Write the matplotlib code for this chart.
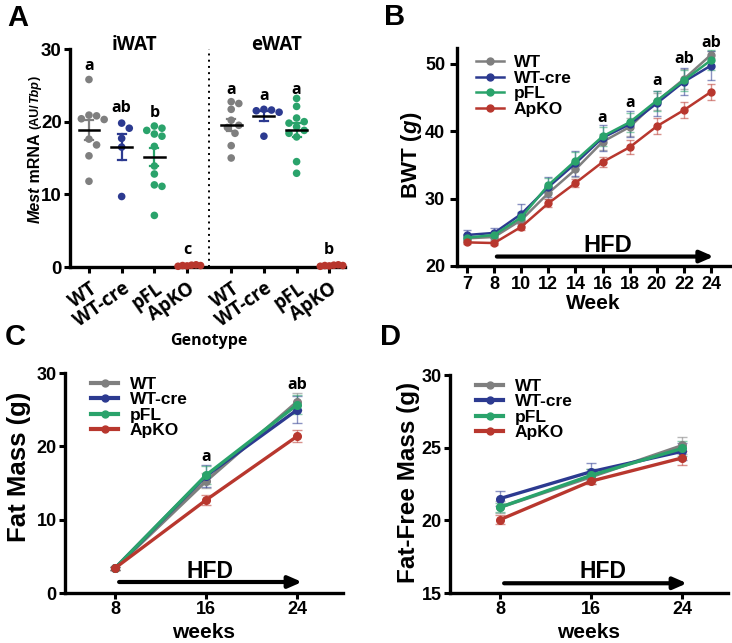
import numpy as np
import matplotlib
matplotlib.use('Agg')
import matplotlib.pyplot as plt
from matplotlib.lines import Line2D

plt.rcParams['font.family'] = ['Liberation Sans', 'DejaVu Sans']
plt.rcParams['font.weight'] = 'bold'

# ---------------- data ----------------
genotypes = ['WT', 'WT-cre', 'pFL', 'ApKO']
colors = ['#7f7f7f', '#2c3a90', '#2aa36b', '#b8372e']

# Panel A: Mest mRNA (AU/Tbp)
iwat_wt = [25.8, 20.9, 20.8, 20.4, 20.3, 17.6, 16.8, 15.3, 11.8]
iwat_wtcre = [19.8, 19.1, 17.7, 16.5, 9.7]
iwat_pfl = [19.4, 19.1, 18.8, 18.3, 18.0, 16.6, 13.9, 12.8, 11.3, 11.1, 7.1]
iwat_apko = [0.15, 0.25, 0.2, 0.3, 0.1, 0.2]
ewat_wt = [22.75, 22.5, 21.7, 20.2, 19.5, 19.2, 18.4, 16.7, 15.0]
ewat_wtcre = [21.7, 21.6, 21.5, 21.3, 18.0]
ewat_pfl = [23.2, 22.1, 20.5, 20.0, 19.8, 19.3, 18.8, 18.4, 17.9, 14.5, 12.9]
ewat_apko = [0.15, 0.25, 0.2, 0.3, 0.1, 0.2]
sig_iwat = ['a', 'ab', 'b', 'c']
sig_ewat = ['a', 'a', 'a', 'b']

# Panel B: body weight (g)
weeks_b = ['7', '8', '10', '12', '14', '16', '18', '20', '22', '24']
bwt_wt = [24.1, 24.3, 26.8, 30.8, 34.3, 38.4, 40.6, 44.4, 47.7, 51.3]
bwt_wtcre = [24.6, 24.9, 27.7, 31.7, 35.2, 39.0, 41.0, 44.1, 47.3, 49.7]
bwt_pfl = [24.2, 24.6, 27.2, 32.0, 35.6, 39.2, 41.3, 44.5, 47.5, 50.5]
bwt_apko = [23.5, 23.4, 25.8, 29.3, 32.3, 35.4, 37.6, 40.7, 43.1, 45.8]
bwt_wt_err = [0.5, 0.5, 0.8, 0.9, 1.1, 1.2, 1.3, 1.3, 1.5, 0.5]
bwt_wtcre_err = [0.8, 0.7, 1.5, 1.5, 1.8, 1.9, 1.9, 1.9, 2.0, 2.2]
bwt_pfl_err = [0.5, 0.5, 0.8, 1.0, 1.3, 1.4, 1.4, 1.5, 1.6, 1.5]
bwt_apko_err = [0.3, 0.3, 0.5, 0.6, 0.6, 0.8, 1.0, 1.2, 1.2, 1.2]
sig_b = ['', '', '', '', '', 'a', 'a', 'a', 'ab', 'ab']

# Panels C & D
weeks_cd = [8, 16, 24]
fat_wt = [3.4, 15.3, 26.1]
fat_wtcre = [3.4, 16.0, 25.0]
fat_pfl = [3.4, 16.1, 25.7]
fat_apko = [3.4, 12.7, 21.4]
fat_wt_err = [0.2, 1.0, 1.2]
fat_wtcre_err = [0.2, 1.5, 1.8]
fat_pfl_err = [0.2, 1.2, 1.3]
fat_apko_err = [0.2, 0.7, 0.8]
sig_c = ['', 'a', 'ab']

ffm_wt = [20.9, 23.0, 25.15]
ffm_wtcre = [21.5, 23.35, 24.75]
ffm_pfl = [20.9, 23.1, 24.95]
ffm_apko = [20.05, 22.7, 24.3]
ffm_wt_err = [0.4, 0.5, 0.6]
ffm_wtcre_err = [0.5, 0.6, 0.6]
ffm_pfl_err = [0.3, 0.4, 0.5]
ffm_apko_err = [0.3, 0.2, 0.5]

# ---------------- figure ----------------
W, H = 732, 643
fig = plt.figure(figsize=(W / 100, H / 100), dpi=100)
renderer = fig.canvas.get_renderer()


def px_axes(l, r, t, b):
    return fig.add_axes([l / W, (H - b) / H, (r - l) / W, (b - t) / H])


def style_axes(ax, ls=13, length=5, pad=3.5):
    for s in ['top', 'right']:
        ax.spines[s].set_visible(False)
    for s in ['left', 'bottom']:
        ax.spines[s].set_linewidth(2.4)
    ax.tick_params(width=2.2, length=length, labelsize=ls, direction='out', pad=pad)
    for lab in ax.get_xticklabels() + ax.get_yticklabels():
        lab.set_fontweight('bold')


def stacked_vlabel(xpix, ybottom_pix, pieces):
    cur = ybottom_pix
    for txt, sty, fs in pieces:
        t = fig.text(xpix / W, 1 - cur / H, txt, rotation=90, rotation_mode='anchor',
                     ha='left', va='center', fontsize=fs, fontweight='bold', fontstyle=sty)
        cur -= t.get_window_extent(renderer).height


SANS2 = ['Open Sans', 'DejaVu Sans']

# ---------- Panel A ----------
axA = px_axes(70, 345, 49, 267)
gap = 1.35
xpos = [0, 1, 2, 3, 3 + gap, 4 + gap, 5 + gap, 6 + gap]
groups = [iwat_wt, iwat_wtcre, iwat_pfl, iwat_apko,
          ewat_wt, ewat_wtcre, ewat_pfl, ewat_apko]
axA.set_xlim(-0.58, 7.83)
axA.set_ylim(0, 30)
xs_px = (345 - 70) / (7.83 + 0.58)
ys_px = (267 - 49) / 30.0


def swarm(ys, d=7.6):
    placed = []
    offs = []
    cand = [0]
    for k in range(1, 12):
        cand += [k * 0.5 * d, -k * 0.5 * d]
    for y in ys:
        for c in cand:
            ok = True
            for (px, py) in placed:
                if np.hypot(c - px, (y - py) * ys_px) < d:
                    ok = False
                    break
            if ok:
                placed.append((c, y))
                offs.append(c / xs_px)
                break
    return np.array(offs)


for i, (x0, vals) in enumerate(zip(xpos, groups)):
    col = colors[i % 4]
    vals = np.array(vals)
    offs = swarm(vals) if i % 4 != 3 else swarm(vals, d=4.5)
    axA.scatter(x0 + offs, vals, s=30, color=col, edgecolor='none', zorder=3, clip_on=False)
    m = vals.mean()
    se = vals.std(ddof=1) / np.sqrt(len(vals))
    if i % 4 != 3:
        axA.plot([x0, x0], [m - se, m + se], color=col, lw=1.6, zorder=4)
        axA.plot([x0 - 0.12, x0 + 0.12], [m + se] * 2, color=col, lw=1.6, zorder=4)
        axA.plot([x0 - 0.12, x0 + 0.12], [m - se] * 2, color=col, lw=1.6, zorder=4)
        axA.plot([x0 - 0.32, x0 + 0.32], [m, m], color='black', lw=1.8, zorder=5)

sig_y = [27.6, 21.9, 21.2, 2.3, 24.4, 23.6, 24.4, 2.3]
for x0, s, yy in zip(xpos, sig_iwat + sig_ewat, sig_y):
    axA.text(x0, yy, s, ha='center', va='center', fontsize=11.5,
             fontweight='bold', family=SANS2)

axA.axvline(3 + gap / 2, ymin=0, ymax=1, color='black', ls=(0, (1, 2.2)), lw=1.4)
axA.text(1.4, 30.6, 'iWAT', ha='center', va='center', fontsize=13.5, fontweight='bold', family=SANS2)
axA.text(5.75, 30.6, 'eWAT', ha='center', va='center', fontsize=13.5, fontweight='bold', family=SANS2)
axA.set_xticks(xpos)
axA.set_xticklabels(genotypes * 2)
axA.set_yticks([0, 10, 20, 30])
style_axes(axA, 13.5, length=4.5, pad=1.5)
for lab in axA.get_xticklabels():
    lab.set_rotation(35)
    lab.set_ha('right')
    lab.set_rotation_mode('anchor')
    lab.set_family(SANS2)
    lab.set_fontsize(13.5)
axA.tick_params(axis='x', pad=4)
fig.text(209 / W, 1 - 341 / H, 'Genotype', ha='center', va='center', fontsize=11.5,
         fontweight='bold', family=SANS2)

stacked_vlabel(35, 223, [('Mest', 'italic', 11.5), (' mRNA ', 'normal', 11.5), ('(AU/', 'normal', 9),
                         ('Tbp', 'italic', 9), (')', 'normal', 9)])

# ---------- Panel B ----------
axB = px_axes(457, 730, 48, 266)
xb = np.arange(len(weeks_b))
series_b = [(bwt_wt, bwt_wt_err), (bwt_wtcre, bwt_wtcre_err),
            (bwt_pfl, bwt_pfl_err), (bwt_apko, bwt_apko_err)]
for (vals, err), col in zip(series_b, colors):
    axB.errorbar(xb, vals, yerr=err, fmt='none', ecolor=col, elinewidth=1.0,
                 capsize=3, capthick=1.0, alpha=0.55, zorder=2)
for i in [3, 1, 2, 0]:
    axB.plot(xb, series_b[i][0], '-o', color=colors[i], lw=1.8, ms=5, zorder=3 + i)
axB.set_xlim(-0.37, 9.7)
axB.set_ylim(20, 52.3)
axB.set_xticks(xb)
axB.set_xticklabels(weeks_b)
axB.set_yticks([20, 30, 40, 50])
style_axes(axB, 13)
axB.tick_params(axis='x', pad=2)
sig_b_y = [0, 0, 0, 0, 0, 42.0, 44.2, 47.4, 50.6, 53.1]
for x0, s, yy in zip(xb, sig_b, sig_b_y):
    if s:
        axB.text(x0, yy, s, ha='center', va='center', fontsize=11.5,
                 fontweight='bold', family=SANS2, clip_on=False)
axB.annotate('', xy=(9.1, 21.4), xytext=(1.1, 21.4),
             arrowprops=dict(arrowstyle='-|>,head_length=0.8,head_width=0.35', lw=3,
                             color='black', shrinkA=0, shrinkB=0))
axB.text(5.2, 23.0, 'HFD', ha='center', va='center', fontsize=17, fontweight='bold')
fig.text(593 / W, 1 - 304 / H, 'Week', ha='center', va='center', fontsize=15, fontweight='bold')
stacked_vlabel(412, 198, [('BWT (', 'normal', 16), ('g', 'italic', 16), (')', 'normal', 16)])

handles = [Line2D([], [], color=c, marker='o', lw=1.8, ms=5) for c in colors]
axB.legend(handles, genotypes, loc='upper left', bbox_to_anchor=(0.045, 1.0),
           frameon=False, fontsize=12.5, handlelength=1.6, handletextpad=0.55,
           labelspacing=0.02, borderaxespad=0)


# ---------- Panels C & D ----------
def mass_panel(ax, series, ylim, yticks, arrow_y, hfd_x, hfd_y, sig=None, sig_y=None):
    for (vals, err), col in zip(series, colors):
        ax.errorbar(weeks_cd, vals, yerr=err, fmt='none', ecolor=col, elinewidth=1.0,
                    capsize=3.5, capthick=1.0, alpha=0.55, zorder=2)
    for i in [3, 1, 2, 0]:
        ax.plot(weeks_cd, series[i][0], '-o', color=colors[i], lw=2.4, ms=5.5, zorder=3 + i)
    ax.set_xlim(3.6, 28.0)
    ax.set_ylim(*ylim)
    ax.set_xticks(weeks_cd)
    ax.set_yticks(yticks)
    style_axes(ax, 13, length=4, pad=2)
    ax.annotate('', xy=(24.4, arrow_y), xytext=(8.35, arrow_y),
                arrowprops=dict(arrowstyle='-|>,head_length=0.8,head_width=0.35', lw=3,
                                color='black', shrinkA=0, shrinkB=0))
    ax.text(hfd_x, hfd_y, 'HFD', ha='center', va='center', fontsize=16.5, fontweight='bold')
    ax.set_xlabel('weeks', fontsize=15, fontweight='bold', labelpad=3)
    if sig:
        for x0, s, yy in zip(weeks_cd, sig, sig_y):
            if s:
                ax.text(x0, yy, s, ha='center', va='center', fontsize=11.5,
                        fontweight='bold', family=SANS2, clip_on=False)
    hs = [Line2D([], [], color=c, marker='o', lw=3.0, ms=5) for c in colors]
    ax.legend(hs, genotypes, loc='upper left', bbox_to_anchor=(0.07, 1.015),
              frameon=False, fontsize=12.5, handlelength=1.55, handletextpad=0.65,
              labelspacing=0.02, borderaxespad=0)


axC = px_axes(65, 343, 373, 593)
mass_panel(axC, [(fat_wt, fat_wt_err), (fat_wtcre, fat_wtcre_err), (fat_pfl, fat_pfl_err),
                 (fat_apko, fat_apko_err)], (0, 30), [0, 10, 20, 30], 1.5, 16.3, 3.0,
           sig_c, [0, 18.6, 28.4])
fig.text(19 / W, 1 - 467 / H, 'Fat Mass (g)', rotation=90, ha='center', va='center',
         fontsize=18.5, fontweight='bold')

axD = px_axes(450, 728, 375, 593)
mass_panel(axD, [(ffm_wt, ffm_wt_err), (ffm_wtcre, ffm_wtcre_err), (ffm_pfl, ffm_pfl_err),
                 (ffm_apko, ffm_apko_err)], (15, 30), [15, 20, 25, 30], 15.67, 17.0, 16.45)
fig.text(409 / W, 1 - 482 / H, 'Fat-Free Mass (g)', rotation=90, ha='center', va='center',
         fontsize=17.5, fontweight='bold')

# panel letters
for lbl, x, y in [('A', 18, 18), ('B', 395, 17), ('C', 15, 337), ('D', 390, 337)]:
    fig.text(x / W, 1 - y / H, lbl, ha='center', va='center', fontsize=21, fontweight='bold')

fig.savefig('out.png', dpi=100)
